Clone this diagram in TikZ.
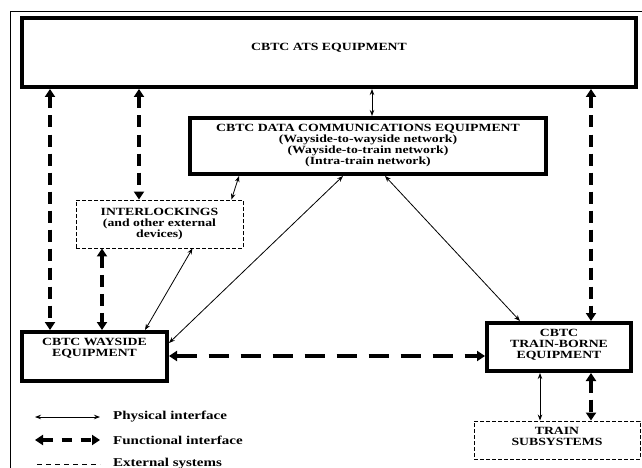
\documentclass[tikz,border=0pt]{standalone}
\usepackage{fontspec}
\setmainfont{Liberation Serif}[FakeStretch=1.25]
\usetikzlibrary{arrows.meta}

\tikzset{
  mainbox/.style={draw, line width=4pt, inner sep=0pt, align=center,
    font=\fontsize{11}{11}\selectfont\bfseries},
  extbox/.style={draw, line width=0.9pt, dash pattern=on 4pt off 2pt, inner sep=0pt,
    align=center, font=\fontsize{11}{11}\selectfont\bfseries},
  legtext/.style={anchor=west, inner sep=0pt, font=\fontsize{12}{12}\selectfont\bfseries},
  physical/.style={line width=0.8pt,
    {Stealth[length=6pt,width=4.5pt]}-{Stealth[length=6pt,width=4.5pt]}},
  functional/.style={line width=3.5pt, dash pattern=on 12pt off 7pt,
    {Triangle[length=8pt,width=10pt]}-{Triangle[length=8pt,width=10pt]}},
  functionalh/.style={functional, dash pattern=on 20pt off 12pt},
  external/.style={line width=0.9pt, dash pattern=on 5pt off 4pt}
}

\begin{document}
\begin{tikzpicture}[x=1pt, y=-1pt]
  \useasboundingbox (0,0) rectangle (642,468);
  % frame of the page
  \draw[line width=1pt] (10,468) -- (10,12) -- (642,12);

  % equipment
  \node[mainbox, minimum width=614pt, minimum height=69pt, text depth=12pt] (ats) at (329,52.5) {CBTC ATS EQUIPMENT};
  \node[mainbox, minimum width=356pt, minimum height=56pt] (dce) at (368,146)
    {CBTC DATA COMMUNICATIONS EQUIPMENT\\(Wayside-to-wayside network)\\(Wayside-to-train network)\\(Intra-train network)};
  \node[extbox, minimum width=167pt, minimum height=48pt] (interlock) at (159.5,224)
    {INTERLOCKINGS\\(and other external\\devices)};
  \node[mainbox, minimum width=145pt, minimum height=49pt, text depth=18pt] (wayside) at (94.5,356.5)
    {CBTC WAYSIDE\\EQUIPMENT};
  \node[mainbox, minimum width=144pt, minimum height=48pt, text depth=7pt] (trainborne) at (559,347)
    {CBTC\\TRAIN-BORNE\\EQUIPMENT};
  \node[extbox, minimum width=166pt, minimum height=38pt, text depth=7pt] (trainsub) at (557,440)
    {TRAIN\\SUBSYSTEMS};

  % columns of the vertical links
  \coordinate (xa) at (50,0);
  \coordinate (xb) at (139,0);
  \coordinate (xc) at (102,0);
  \coordinate (xd) at (591,0);
  \coordinate (xe) at (372,0);
  \coordinate (xf) at (540,0);
  \coordinate (yh) at (0,356);

  \draw[functional] (ats.south -| xa) -- (wayside.north -| xa);
  \draw[functional] (ats.south -| xb) -- (interlock.north -| xb);
  \draw[functional] (interlock.south -| xc) -- (wayside.north -| xc);
  \draw[functional] (ats.south -| xd) -- (trainborne.north -| xd);
  \draw[functional] (trainborne.south -| xd) -- (trainsub.north -| xd);
  \draw[functionalh] (wayside.east |- yh) -- (trainborne.west |- yh);

  \draw[physical] (ats.south -| xe) -- (dce.north -| xe);
  \draw[physical] (trainborne.south -| xf) -- (trainsub.north -| xf);
  \draw[physical] ([xshift=51pt]dce.south west) -- ([xshift=-12pt]interlock.north east);
  \draw[physical] ([xshift=155pt]dce.south west) -- ([yshift=13.5pt]wayside.east);
  \draw[physical] ([xshift=-51pt]interlock.south east) -- ([xshift=-24pt]wayside.north east);
  \draw[physical] ([xshift=197pt]dce.south west) -- ([xshift=35pt]trainborne.north west);

  % legend
  \node[legtext] (legphys) at (113,417) {Physical interface};
  \node[legtext] (legfunc) at (113,440) {Functional interface};
  \node[legtext] (legext) at (113,464) {External systems};
  \coordinate (lp) at (35,417);
  \coordinate (lf) at (35,440);
  \coordinate (le) at (37,464);
  \draw[physical] (lp) -- ([xshift=-13pt]legphys.west);
  \draw[functional, dash pattern=on 10pt off 9pt] (lf) -- ([xshift=-13pt]legfunc.west);
  \draw[external] (le) -- ([xshift=-13pt]legext.west);
\end{tikzpicture}
\end{document}
